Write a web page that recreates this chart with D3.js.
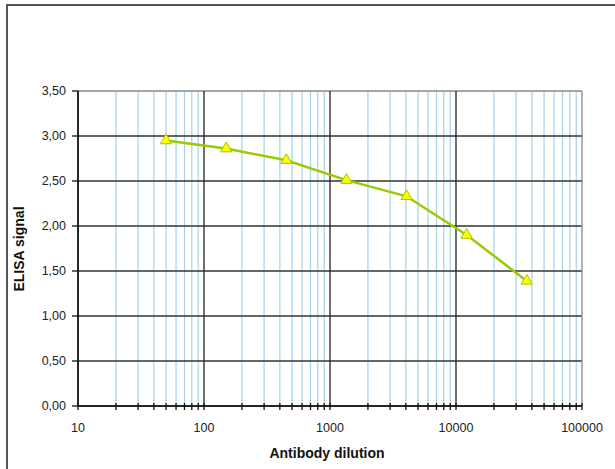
<!DOCTYPE html>
<html>
<head>
<meta charset="utf-8">
<script src="https://cdn.jsdelivr.net/npm/d3@7"></script>
<style>
  body { margin: 0; background: #fff; }
  text { font-family: Arial, "Liberation Sans", sans-serif; }
</style>
</head>
<body>
<div class="container"></div>
<script>
// data
const dilutions = [50, 150, 450, 1350, 4050, 12150, 36450];
const signals = [2.95, 2.86, 2.73, 2.51, 2.33, 1.90, 1.39];
const yTicks = [0, 0.5, 1, 1.5, 2, 2.5, 3, 3.5];
const xDecades = [10, 100, 1000, 10000, 100000];

const width = 615, height = 469;
const plotLeft = 78, plotRight = 582, plotTop = 91, plotBottom = 406;

const svg = d3.select(".container").append("svg")
  .attr("width", width).attr("height", height);

// outer frame (top + left)
svg.append("path")
  .attr("d", `M7,${height} L7,5 L${width},5`)
  .attr("fill", "none").attr("stroke", "#555").attr("stroke-width", 2);

const x = d3.scaleLog().domain([10, 100000]).range([plotLeft, plotRight]);
const y = d3.scaleLinear().domain([0, 3.5]).range([plotBottom, plotTop]);

// minor ticks 2..9 in each decade
const minor = [];
xDecades.slice(0, -1).forEach(d => { for (let k = 2; k <= 9; k++) minor.push(d * k); });

const g = svg.append("g");

// minor vertical gridlines (light blue)
g.selectAll(".minor").data(minor).enter().append("line")
  .attr("x1", d => x(d)).attr("x2", d => x(d))
  .attr("y1", plotTop).attr("y2", plotBottom)
  .attr("stroke", "#a8d0ea").attr("stroke-width", 1.2);

// horizontal gridlines
g.selectAll(".hgrid").data(yTicks).enter().append("line")
  .attr("x1", plotLeft).attr("x2", plotRight)
  .attr("y1", d => y(d)).attr("y2", d => y(d))
  .attr("stroke", d => d === 3.5 ? "#888" : "#333").attr("stroke-width", 1.3);

// decade gridlines
g.selectAll(".major").data(xDecades).enter().append("line")
  .attr("x1", d => x(d)).attr("x2", d => x(d))
  .attr("y1", plotTop).attr("y2", plotBottom)
  .attr("stroke", d => d === 100000 ? "#888" : "#222").attr("stroke-width", 1.3);

// axes lines
g.append("line").attr("x1", plotLeft).attr("x2", plotLeft).attr("y1", plotTop).attr("y2", plotBottom)
  .attr("stroke", "#111").attr("stroke-width", 1.5);
g.append("line").attr("x1", plotLeft).attr("x2", plotRight).attr("y1", plotBottom).attr("y2", plotBottom)
  .attr("stroke", "#111").attr("stroke-width", 1.5);

// y ticks + labels
const fmt = d => d3.format(".2f")(d).replace(".", ",");
g.selectAll(".ytick").data(yTicks).enter().append("line")
  .attr("x1", plotLeft - 6).attr("x2", plotLeft)
  .attr("y1", d => y(d)).attr("y2", d => y(d))
  .attr("stroke", "#111").attr("stroke-width", 1.3);
g.selectAll(".ylab").data(yTicks).enter().append("text")
  .attr("x", 66).attr("y", d => y(d)).attr("dy", "0.35em")
  .attr("text-anchor", "end").attr("font-size", 12.5).attr("fill", "#222")
  .text(fmt);

// x ticks
g.selectAll(".xtick").data(minor.concat(xDecades)).enter().append("line")
  .attr("x1", d => x(d)).attr("x2", d => x(d))
  .attr("y1", plotBottom - 3).attr("y2", plotBottom + 4)
  .attr("stroke", "#111").attr("stroke-width", 1.3);
g.selectAll(".xlab").data(xDecades).enter().append("text")
  .attr("x", d => x(d)).attr("y", 432)
  .attr("text-anchor", "middle").attr("font-size", 12.5).attr("fill", "#222")
  .text(d => d);

// axis titles
svg.append("text").attr("x", 327).attr("y", 458)
  .attr("text-anchor", "middle").attr("font-size", 14).attr("font-weight", "bold")
  .attr("fill", "#111").text("Antibody dilution");
svg.append("text").attr("transform", "translate(24,249) rotate(-90)")
  .attr("text-anchor", "middle").attr("font-size", 14).attr("font-weight", "bold")
  .attr("fill", "#111").text("ELISA signal");

// series
const pts = dilutions.map((d, i) => [d, signals[i]]);
g.append("path").datum(pts)
  .attr("d", d3.line().x(d => x(d[0])).y(d => y(d[1])))
  .attr("fill", "none").attr("stroke", "#99cc00").attr("stroke-width", 2.5);

const tri = d3.symbol().type(d3.symbolTriangle).size(55);
g.selectAll(".pt").data(pts).enter().append("path")
  .attr("d", tri)
  .attr("transform", d => `translate(${x(d[0])},${y(d[1])})`)
  .attr("fill", "#ffff00").attr("stroke", "#99cc00").attr("stroke-width", 1);
</script>
</body>
</html>
